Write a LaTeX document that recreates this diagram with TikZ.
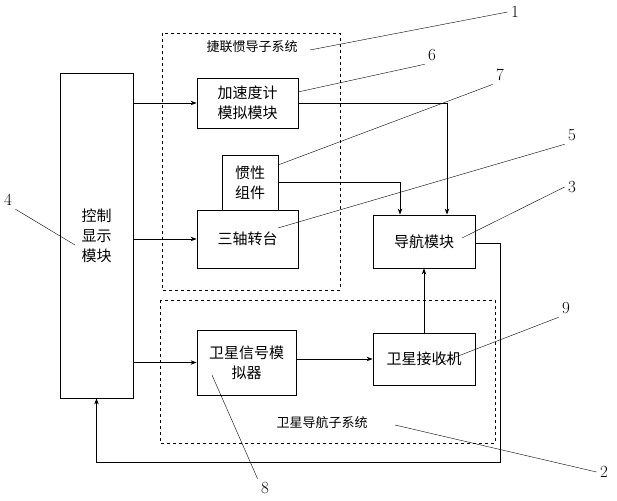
\documentclass[tikz,border=0pt]{standalone}
\usepackage{fontspec}
\newfontfamily\cjk{Noto Sans CJK SC}
\usepackage{tikz}
\usetikzlibrary{arrows.meta}

\tikzset{
  block/.style={draw, thick, align=center, inner sep=0pt, font=\cjk\fontsize{15}{20}\selectfont},
  sub/.style={draw, thick, dashed},
  link/.style={thick, -{Stealth[length=6pt]}},
  lead/.style={thin},
  num/.style={font=\fontsize{17}{17}\selectfont}
}

\begin{document}
\begin{tikzpicture}[x=1pt, y=-1pt]
    % Fix the page size to the reference
    \useasboundingbox (0,0) rectangle (617,500);

    % Macro for a block: name, x1, y1, x2, y2, text
    \newcommand{\drawBlock}[6]{%
      \node[block, minimum width=#4-#2, minimum height=#5-#3] (#1) at ({(#2+#4)/2},{(#3+#5)/2}) {#6};
    }

    % Dashed subsystem frames
    \draw[sub] (162,33) rectangle (340,290);
    \draw[sub] (160,300) rectangle (495,443);
    \node[font=\cjk\fontsize{13}{15}\selectfont] (sinsl) at (252,47) {捷联惯导子系统};
    \node[font=\cjk\fontsize{13}{15}\selectfont] (gnssl) at (322,423) {卫星导航子系统};

    % Blocks
    \drawBlock{ctrl}{60}{73}{133}{398}{控制\\显示\\模块}
    \drawBlock{accel}{197}{78}{298}{128}{加速度计\\模拟模块}
    \drawBlock{imu}{222}{155}{278}{210}{惯性\\组件}
    \drawBlock{table}{197}{210}{298}{268}{三轴转台}
    \drawBlock{nav}{373}{215}{475}{268}{导航模块}
    \drawBlock{satsim}{197}{330}{296}{395}{卫星信号模\\拟器}
    \drawBlock{recv}{373}{333}{475}{385}{卫星接收机}

    % Connectors
    \draw[link] (ctrl.east |- accel) -- (accel.west);
    \draw[link] (ctrl.east |- table) -- (table.west);
    \draw[link] (ctrl.east |- satsim) -- (satsim.west);
    \draw[link] (accel.east) -| (nav.north -| 447,0);
    \draw[link] (imu.east) -| (nav.north -| 400,0);
    \draw[link] (satsim.east |- recv) -- (recv.west);
    \draw[link] (recv.north) -- (nav.south -| recv.north);
    \coordinate (c1) at (500,243);
    \coordinate (c2) at (500,462);
    \draw[link] (nav.east |- c1) -- (c1) -- (c2) -| (ctrl.south);

    % Leader lines and numbers
    \node[num] (n1) at (515,12) {1};
    \draw[lead] (310,50) -- (n1.west);
    \node[num] (n6) at (432,55) {6};
    \draw[lead] (298,92) -- (n6.south west);
    \node[num] (n7) at (500,75) {7};
    \draw[lead] (278,165) -- (n7.south west);
    \node[num] (n5) at (572,135) {5};
    \draw[lead] (278,228) -- (n5.south west);
    \node[num] (n3) at (572,187) {3};
    \draw[lead] (462,238) -- (n3.west);
    \node[num] (n4) at (8,200) {4};
    \draw[lead] (n4.south east) -- (75,245);
    \node[num] (n9) at (566,308) {9};
    \draw[lead] (440,363) -- (n9.south west);
    \node[num] (n8) at (265,488) {8};
    \draw[lead] (212,375) -- (n8.north west);
    \node[num] (n2) at (604,472) {2};
    \draw[lead] (395,425) -- (n2.west);
\end{tikzpicture}
\end{document}
